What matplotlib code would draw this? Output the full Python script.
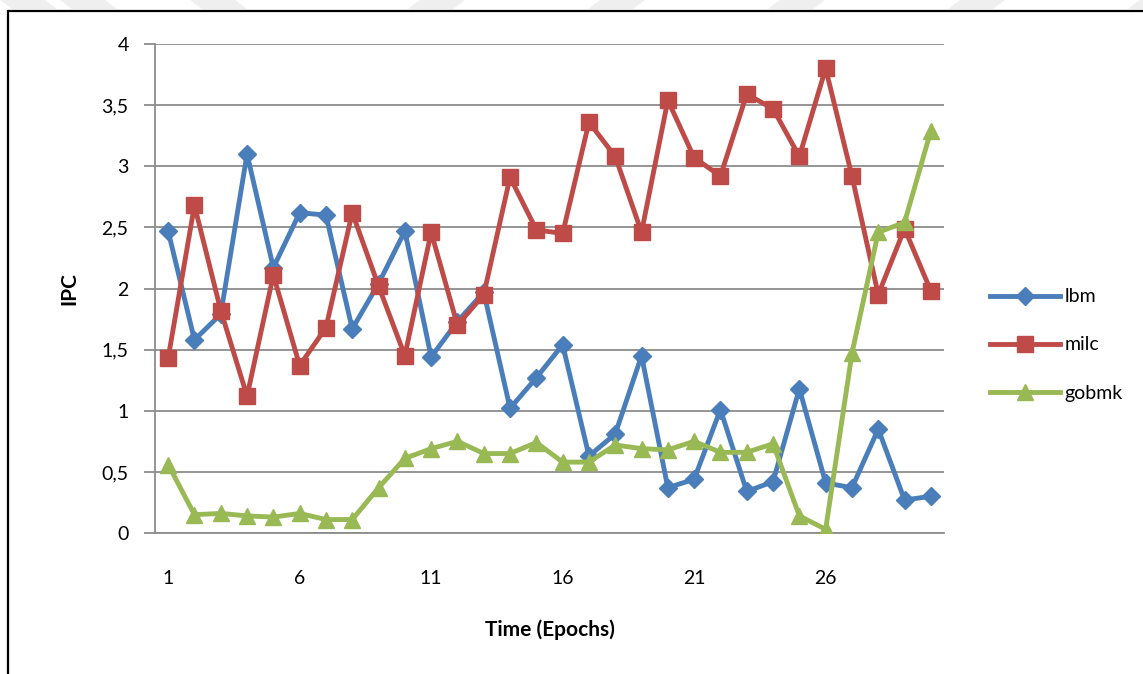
#!/usr/bin/env python3
"""IPC per epoch for lbm / milc / gobmk (Excel-style line chart)."""
import matplotlib
matplotlib.use("Agg")
import matplotlib.pyplot as plt
from matplotlib.patches import Rectangle, Polygon
from matplotlib.ticker import FuncFormatter, MultipleLocator

plt.rcParams["font.family"] = ["Lato", "DejaVu Sans"]

epochs = list(range(1, 31))
lbm = [2.47, 1.58, 1.79, 3.10, 2.17, 2.62, 2.60, 1.67, 2.04, 2.47,
       1.44, 1.73, 1.97, 1.02, 1.27, 1.54, 0.63, 0.81, 1.45, 0.37,
       0.44, 1.01, 0.34, 0.42, 1.18, 0.41, 0.37, 0.85, 0.27, 0.30]
milc = [1.43, 2.68, 1.82, 1.12, 2.11, 1.37, 1.68, 2.62, 2.02, 1.45,
        2.46, 1.70, 1.95, 2.91, 2.48, 2.45, 3.36, 3.08, 2.46, 3.54,
        3.07, 2.92, 3.59, 3.47, 3.08, 3.80, 2.92, 1.95, 2.49, 1.98]
gobmk = [0.56, 0.15, 0.16, 0.14, 0.13, 0.16, 0.11, 0.11, 0.37, 0.61,
         0.69, 0.75, 0.65, 0.65, 0.74, 0.58, 0.58, 0.72, 0.69, 0.68,
         0.75, 0.66, 0.66, 0.73, 0.14, 0.03, 1.47, 2.46, 2.54, 3.29]
xticks = [1, 6, 11, 16, 21, 26]

W, H = 1143, 674
fig = plt.figure(figsize=(W / 100, H / 100), dpi=100)
ax = fig.add_axes([155 / W, 1 - 533 / H, (944 - 155) / W, (533 - 44) / H])

grid_c = "#8c8c8c"
ax.plot(epochs, lbm, color="#4a7ebb", lw=3.5, marker="D", ms=9.5, label="lbm", zorder=3)
ax.plot(epochs, milc, color="#be4b48", lw=3.5, marker="s", ms=11.5, label="milc", zorder=3)
ax.plot(epochs, gobmk, color="#98b954", lw=3.5, marker="^", ms=11.5, label="gobmk", zorder=3)

ax.set_xlim(0.5, 30.5)
ax.set_ylim(0, 4)
ax.yaxis.set_major_locator(MultipleLocator(0.5))
ax.yaxis.set_major_formatter(FuncFormatter(lambda v, p: f"{v:g}".replace(".", ",")))
ax.set_xticks(xticks)
ax.grid(axis="y", color=grid_c, lw=1.3)
ax.set_axisbelow(True)
for s in ["top", "right"]:
    ax.spines[s].set_visible(False)
ax.spines["left"].set_color(grid_c)
ax.spines["bottom"].set_color(grid_c)
ax.spines["left"].set_linewidth(1.3)
ax.spines["bottom"].set_linewidth(1.3)
ax.tick_params(axis="y", length=8, width=1.3, color=grid_c, labelsize=14, pad=11)
ax.tick_params(axis="x", length=0, labelsize=14, pad=27)

ax.set_xlabel("Time (Epochs)", fontsize=15, fontweight="bold", labelpad=23)
ax.set_ylabel("IPC", fontsize=15, fontweight="bold", labelpad=16)

fig.legend(loc="center left", bbox_to_anchor=(972 / W, 1 - 345 / H), frameon=False,
           fontsize=14, handlelength=3.6, handletextpad=0.25, labelspacing=1.6)

# outer chart frame (cut off on right/bottom in the source)
fig.add_artist(Rectangle((8 / W, -0.05), 1.2, 1.05 - 11 / H, transform=fig.transFigure,
                         fill=False, ec="black", lw=1.6, clip_on=False))

# faint watermark stripes along the top edge
for x0, d in [(0, 1), (60, 1), (190, 1), (420, -1), (600, -1), (780, -1), (960, -1), (1140, -1)]:
    pts = [(x0, H), (x0 + 45, H), (x0 + 45 + d * 12, H - 9), (x0 + d * 12, H - 9)]
    fig.add_artist(Polygon([(px / W, py / H) for px, py in pts], closed=True,
                           transform=fig.transFigure, fc="#efefef", ec="none"))

fig.savefig("out.png", dpi=100)
